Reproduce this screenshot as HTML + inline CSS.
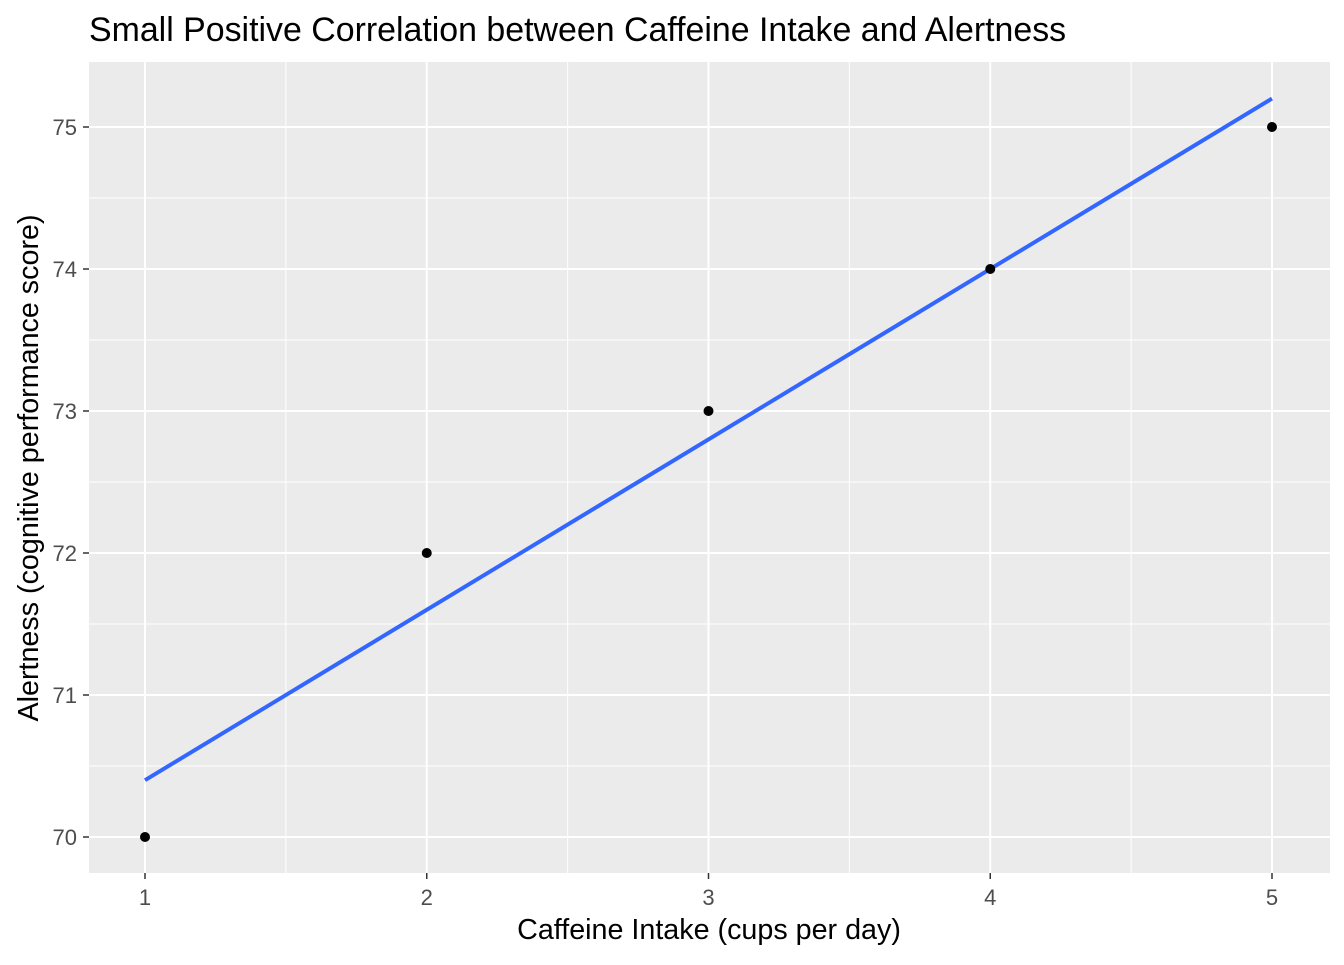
<!DOCTYPE html>
<html><head><meta charset="utf-8"><style>
body{margin:0;background:#fff;font-family:"Liberation Sans",Arial,sans-serif}
</style></head><body>
<svg width="1344" height="960" xmlns="http://www.w3.org/2000/svg">
<rect width="1344" height="960" fill="#fff"/>
<text x="89" y="41" font-size="33.9" fill="#000">Small Positive Correlation between Caffeine Intake and Alertness</text>
<rect x="89" y="62" width="1241" height="811" fill="#ebebeb"/>
<g id="grid"></g>
<g id="marks"></g>
<g id="axes"></g>
<text x="709" y="939" font-size="28.7" text-anchor="middle" fill="#000">Caffeine Intake (cups per day)</text>
<text transform="translate(38,468) rotate(-90)" font-size="28.7" text-anchor="middle" fill="#000">Alertness (cognitive performance score)</text>
</svg>
<script>
const xValues=[1,2,3,4,5];
const yValues=[70,72,73,74,75];
const xTicks=[1,2,3,4,5];
const yTicks=[70,71,72,73,74,75];
const fitStart=[1,70.4];
const fitEnd=[5,75.2];
const NS="http://www.w3.org/2000/svg";
function X(v){return 145+(v-1)*281.75;}
function Y(v){return 837-(v-70)*142;}
function mk(tag,attrs,parent){const e=document.createElementNS(NS,tag);for(const k in attrs)e.setAttribute(k,attrs[k]);parent.appendChild(e);return e;}
const grid=document.getElementById('grid'),marks=document.getElementById('marks'),axes=document.getElementById('axes');
for(let i=0;i<xTicks.length-1;i++){const m=(xTicks[i]+xTicks[i+1])/2;const l=mk('line',{x1:X(m),x2:X(m),y1:62,y2:873,stroke:'#fff','stroke-width':1},grid);

}
for(let i=0;i<yTicks.length-1;i++){const m=(yTicks[i]+yTicks[i+1])/2;const l=mk('line',{x1:89,x2:1330,y1:Y(m),y2:Y(m),stroke:'#fff','stroke-width':1},grid);

}
xTicks.forEach(t=>{const l=mk('line',{x1:X(t),x2:X(t),y1:62,y2:873,stroke:'#fff','stroke-width':2},grid);


mk('line',{x1:X(t),x2:X(t),y1:873,y2:879,stroke:'#333','stroke-width':1.5},axes);
const tx=mk('text',{x:X(t),y:905,'font-size':22,'text-anchor':'middle',fill:'#4d4d4d'},axes);tx.textContent=t;

});
yTicks.forEach(t=>{const l=mk('line',{x1:89,x2:1330,y1:Y(t),y2:Y(t),stroke:'#fff','stroke-width':2},grid);


mk('line',{x1:83,x2:89,y1:Y(t),y2:Y(t),stroke:'#333','stroke-width':1.5},axes);
const tx=mk('text',{x:77,y:Y(t)+8,'font-size':22,'text-anchor':'end',fill:'#4d4d4d'},axes);tx.textContent=t;

});
const fit=mk('line',{x1:X(fitStart[0]),y1:Y(fitStart[1]),x2:X(fitEnd[0]),y2:Y(fitEnd[1]),stroke:'#3366ff','stroke-width':4},marks);


xValues.forEach((v,i)=>{const c=mk('circle',{cx:X(v),cy:Y(yValues[i]),r:5,fill:'#000'},marks);

});
</script>
</body></html>
